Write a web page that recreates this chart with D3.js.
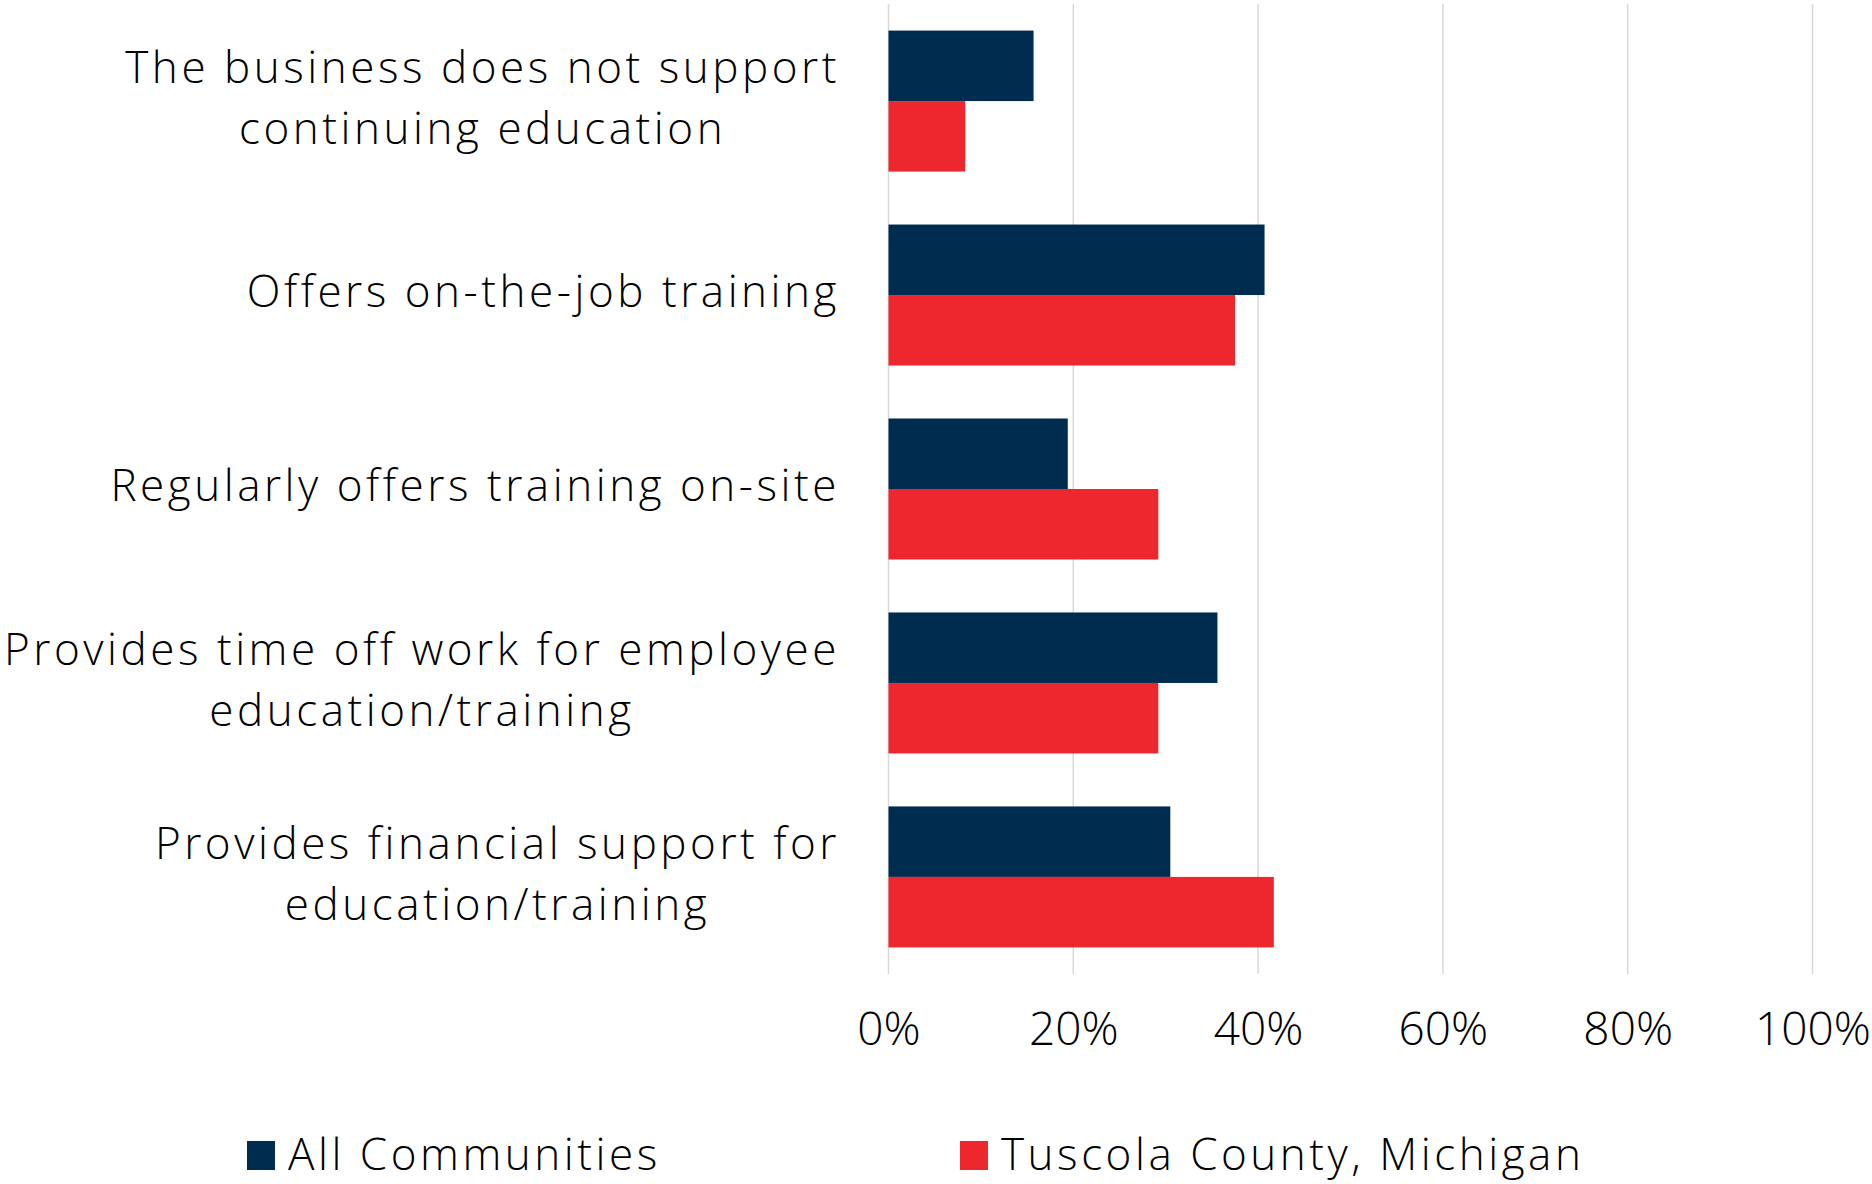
<!DOCTYPE html>
<html><head><meta charset="utf-8">
<script src="https://cdn.jsdelivr.net/npm/d3@7"></script>
<style>
html,body{margin:0;padding:0;background:#fff;}
svg text{font-family:"Open Sans", Lato, sans-serif;font-weight:300;fill:#000;}
</style></head>
<body>
<svg id="chart" width="1872" height="1184"></svg>
<script>
const categories = [
  ["The business does not support", "continuing education"],
  ["Offers on-the-job training"],
  ["Regularly offers training on-site"],
  ["Provides time off work for employee", "education/training"],
  ["Provides financial support for", "education/training"]
];
const seriesNames = ["All Communities", "Tuscola County, Michigan"];
const allCommunities = [15.7, 40.7, 19.4, 35.6, 30.5];
const tuscola = [8.3, 37.5, 29.2, 29.2, 41.7];
const tickValues = [0, 20, 40, 60, 80, 100];
const colors = ["#002c50", "#ed272d"];

const svg = d3.select("#chart");
const fontSize = 44;

// calibrate letter spacing so the widest label line spans like the reference
const probe = svg.append("text").attr("font-size", fontSize).text("Provides time off work for employee");
const pw = probe.node().getComputedTextLength();
const ls = (836 - pw) / "Provides time off work for employee".length;
probe.remove();

const x = d3.scaleLinear().domain([0, 100]).range([888.5, 1812.5]);
const y = d3.scaleBand().domain(d3.range(categories.length)).range([4, 974])
  .paddingInner(0.273).paddingOuter(0.137);
const ySub = d3.scaleBand().domain([0, 1]).range([0, y.bandwidth()]);

// gridlines
svg.append("g").selectAll("line").data(tickValues).join("line")
  .attr("x1", d => x(d)).attr("x2", d => x(d))
  .attr("y1", 4).attr("y2", 974)
  .attr("stroke", "#d9d9d9").attr("stroke-width", 1.5);

// bars
const series = [allCommunities, tuscola];
series.forEach((vals, si) => {
  svg.append("g").selectAll("rect").data(vals).join("rect")
    .attr("x", x(0))
    .attr("y", (d, i) => y(i) + ySub(si))
    .attr("width", d => x(d) - x(0))
    .attr("height", ySub.bandwidth())
    .attr("fill", colors[si]);
});

// axis tick labels
const axis = d3.axisBottom(x).tickValues(tickValues).tickFormat(d => d + "%").tickSize(0).tickPadding(0);
const ax = svg.append("g").attr("transform", "translate(0,1029)").call(axis);
ax.select(".domain").remove();
ax.selectAll("text").attr("font-size", 46).attr("dy", "0.35em").attr("y", 0)
  .style("font-family", "'Open Sans', Lato, sans-serif").style("font-weight", 300).attr("fill", "#000");

// category labels
const rightEdge = 840;
const lineH = 61;
categories.forEach((lines, i) => {
  const g = svg.append("g").style("letter-spacing", ls + "px");
  const cy = y(i) + y.bandwidth() / 2 - 3;
  const texts = lines.map((ln, j) => g.append("text")
    .attr("font-size", fontSize)
    .attr("text-anchor", "middle")
    .attr("dy", "0.35em")
    .attr("y", cy + (j - (lines.length - 1) / 2) * lineH)
    .text(ln));
  const maxW = d3.max(texts, t => t.node().getBBox().width);
  texts.forEach(t => t.attr("x", rightEdge - maxW / 2));
});

// legend
const legendX = [247, 960];
seriesNames.forEach((name, i) => {
  svg.append("rect").attr("x", legendX[i]).attr("y", 1141).attr("width", 28).attr("height", 29).attr("fill", colors[i]);
  svg.append("text").attr("x", legendX[i] + 41).attr("y", 1155).attr("dy", "0.35em")
    .style("letter-spacing", ls + "px")
    .attr("font-size", fontSize).text(name);
});
</script>
</body></html>
